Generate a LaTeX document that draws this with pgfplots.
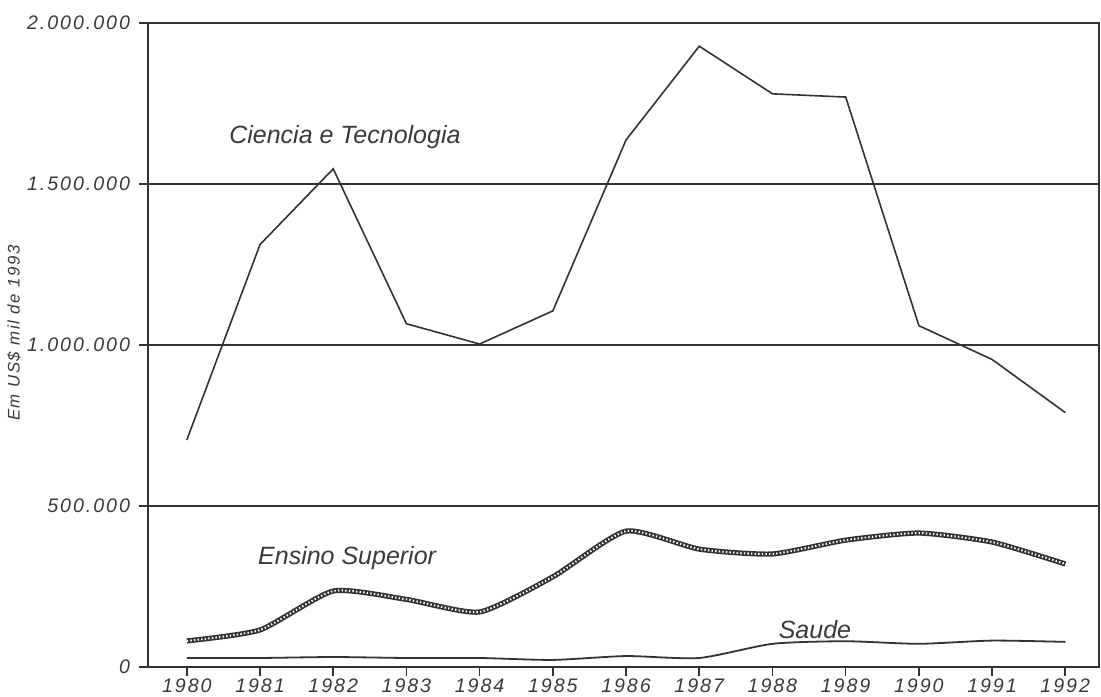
\documentclass[border=0pt]{standalone}
\usepackage{fontspec}
\setmainfont{Liberation Sans}
\newfontfamily\tickfont{Liberation Sans}[LetterSpace=10]
\usepackage{pgfplots}
\pgfplotsset{compat=1.18}
\definecolor{ink}{HTML}{333333}
\definecolor{txt}{HTML}{3A3A3A}

\begin{document}
\begin{tikzpicture}
\useasboundingbox (-74bp,-15bp) rectangle (476.5bp,333.5bp);
\begin{axis}[
  scale only axis, width=475.5bp, height=322bp,
  xmin=1979.47, xmax=1992.46, ymin=0, ymax=2000000,
  scaled y ticks=false,
  xtick={1980,...,1992},
  xticklabels={1980,1981,1982,1983,1984,1985,1986,1987,1988,1989,1990,1991,1992},
  ytick={0,500000,1000000,1500000,2000000},
  yticklabels={0,500.000,1.000.000,1.500.000,2.000.000},
  tick align=outside, major tick length=4.5bp,
  tick style={ink,line width=0.8bp},
  xtick pos=bottom, ytick pos=left,
  axis line style={ink,line width=0.9bp},
  ymajorgrids, grid style={ink,line width=0.9bp},
  ticklabel style={font=\tickfont\itshape\fontsize{9.8bp}{11bp}\selectfont,text=txt},
  xticklabel style={yshift=2.2bp},
  yticklabel style={xshift=-1bp},
]
\addplot[ink,line width=0.8bp] coordinates {
  (1980,705000) (1981,1312000) (1982,1547000) (1983,1066000) (1984,1003000)
  (1985,1106000) (1986,1637000) (1987,1928000) (1988,1780000) (1989,1770000)
  (1990,1060000) (1991,955000) (1992,790000)};
\addplot[ink,line width=2.6bp,smooth,tension=0.35] coordinates {
  (1980,81000) (1981,115000) (1982,236000) (1983,210000) (1984,171000)
  (1985,280000) (1986,422000) (1987,366000) (1988,351000) (1989,394000)
  (1990,416000) (1991,388000) (1992,320000)};
\addplot[white,line width=1.0bp,dash pattern=on 0.7bp off 1.1bp,smooth,tension=0.35] coordinates {
  (1980,81000) (1981,115000) (1982,236000) (1983,210000) (1984,171000)
  (1985,280000) (1986,422000) (1987,366000) (1988,351000) (1989,394000)
  (1990,416000) (1991,388000) (1992,320000)};
\addplot[ink,line width=0.9bp,smooth,tension=0.4] coordinates {
  (1980,28000) (1981,28000) (1982,31000) (1983,28000) (1984,28000)
  (1985,22000) (1986,34000) (1987,28000) (1988,72000) (1989,80000)
  (1990,72000) (1991,82000) (1992,78000)};
\node[font=\itshape\fontsize{12.5bp}{14bp}\selectfont,text=txt] at (axis cs:1982.16,1646000) {Ciencia e Tecnologia};
\node[font=\itshape\fontsize{12.5bp}{14bp}\selectfont,text=txt] at (axis cs:1982.19,338000) {Ensino Superior};
\node[font=\itshape\fontsize{12.5bp}{14bp}\selectfont,text=txt] at (axis cs:1988.58,115000) {Saude};
\end{axis}
\node[rotate=90,font=\tickfont\itshape\fontsize{8.4bp}{10bp}\selectfont,text=txt] at (-67bp,167bp) {Em US\$ mil de 1993};
\end{tikzpicture}
\end{document}
